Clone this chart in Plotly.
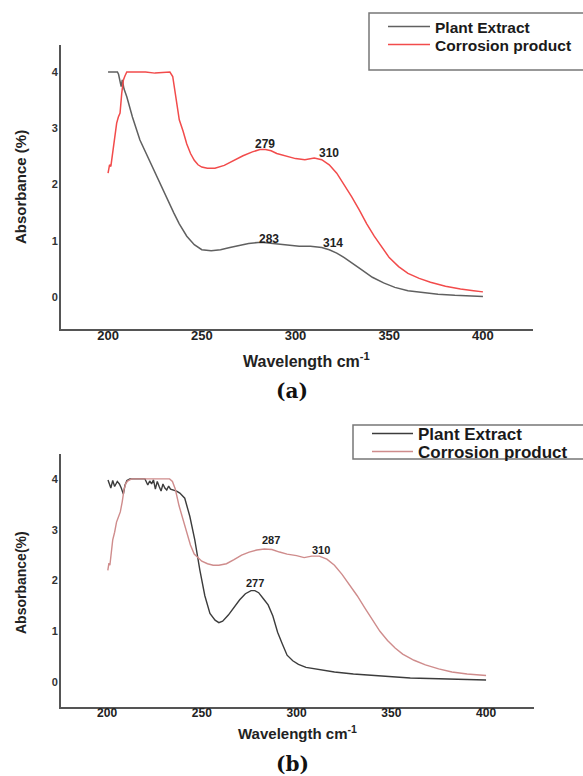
import plotly.graph_objects as go

W, H = 583, 776

# ---------------- data: panel (a) ----------------
a_plant_x = [200, 203, 205, 205.6, 206.3, 207, 207.6, 208.5, 210, 213, 217, 221, 225, 228.6, 232, 235,
             238, 242, 246, 250, 255, 260, 265, 270, 275, 280, 283, 288, 295, 302, 308, 314, 318, 322,
             326, 330, 335, 341, 347, 353, 360, 368, 376, 385, 392, 400]
a_plant_y = [4.0, 4.0, 4.0, 3.96, 3.82, 3.74, 3.86, 3.7, 3.56, 3.2, 2.79, 2.5, 2.2, 1.96, 1.7, 1.5,
             1.3, 1.08, 0.93, 0.84, 0.82, 0.84, 0.88, 0.92, 0.95, 0.97, 0.97, 0.95, 0.92, 0.9, 0.9, 0.88, 0.84, 0.78,
             0.7, 0.6, 0.49, 0.35, 0.25, 0.17, 0.11, 0.08, 0.05, 0.03, 0.02, 0.01]

a_corr_x = [200, 200.8, 201.5, 202, 202.8, 203.7, 204.6, 205.5, 206.4, 207.3, 208.2, 209, 210, 212, 215,
            220, 225, 230, 233, 234.5, 236, 238, 240, 242, 244, 246, 248, 250, 253, 257, 262, 267, 272,
            277, 281, 284, 287, 290, 295, 300, 305, 310, 314, 318, 322, 326, 330, 334, 338, 342, 346,
            350, 355, 360, 366, 372, 380, 388, 395, 400]
a_corr_y = [2.2, 2.35, 2.32, 2.45, 2.61, 2.85, 3.09, 3.2, 3.27, 3.62, 3.86, 3.93, 4.0, 4.0, 4.0,
            4.0, 3.98, 4.0, 4.0, 3.92, 3.6, 3.15, 2.95, 2.72, 2.55, 2.43, 2.35, 2.31, 2.29, 2.29, 2.34, 2.43, 2.51,
            2.58, 2.62, 2.62, 2.6, 2.55, 2.5, 2.46, 2.44, 2.47, 2.44, 2.35, 2.2, 2.0, 1.78, 1.55, 1.3, 1.08, 0.88,
            0.7, 0.54, 0.42, 0.33, 0.26, 0.19, 0.14, 0.11, 0.09]

# ---------------- data: panel (b) ----------------
b_plant_x = [200.5, 202, 203, 204, 205.4, 206.5, 207.5, 208.6, 209.5, 210.5, 212, 216, 220, 221.5, 222.5,
             223.5, 224.5, 225.5, 226.5, 227.5, 228.5, 229.5, 230.5, 231.5, 232.5, 233.5, 235, 236.7,
             238.4, 241, 243.7, 246.3, 249, 251.6, 254.3, 257, 259, 261, 264, 267, 270, 273, 276, 278,
             280, 282.5, 285, 287.5, 290, 292.5, 295, 298, 301, 305, 310, 320, 330, 340, 350, 360, 370,
             380, 390, 400]
b_plant_y = [3.98, 3.82, 3.97, 3.85, 3.95, 3.9, 3.82, 3.7, 3.88, 3.97, 4.0, 4.0, 4.0, 3.88, 3.96,
             3.9, 3.98, 3.8, 3.95, 3.85, 3.76, 3.9, 3.82, 3.78, 3.86, 3.8, 3.78, 3.76,
             3.72, 3.62, 3.26, 2.8, 2.2, 1.7, 1.35, 1.22, 1.17, 1.2, 1.32, 1.48, 1.62, 1.74, 1.8, 1.8,
             1.76, 1.64, 1.52, 1.3, 0.98, 0.75, 0.53, 0.42, 0.35, 0.29, 0.26, 0.2, 0.16, 0.13, 0.1, 0.08, 0.07,
             0.06, 0.05, 0.04]

b_corr_x = [200.4, 201, 201.5, 202, 203, 204, 205, 206, 207, 208, 209, 210, 211, 213, 216, 220, 225,
            230, 233, 234.5, 236, 238, 240, 242, 244, 246, 248, 250, 253, 256, 259, 263, 267, 271, 275,
            279, 283, 287, 291, 295, 300, 304, 308, 312, 316, 320, 324, 328, 332, 336, 340, 344, 348,
            352, 356, 362, 368, 375, 382, 390, 400]
b_corr_y = [2.2, 2.34, 2.3, 2.45, 2.8, 2.95, 3.15, 3.25, 3.35, 3.55, 3.8, 3.92, 3.96, 4.0, 4.0, 4.0, 4.0,
            4.0, 4.0, 3.95, 3.8, 3.47, 3.2, 2.95, 2.7, 2.52, 2.44, 2.38, 2.33, 2.3, 2.3, 2.33, 2.41, 2.5, 2.56,
            2.6, 2.62, 2.61, 2.56, 2.52, 2.49, 2.45, 2.48, 2.48, 2.42, 2.3, 2.12, 1.92, 1.7, 1.46, 1.22, 1.0, 0.82,
            0.67, 0.55, 0.43, 0.34, 0.26, 0.2, 0.16, 0.13]

x_ticks = [200, 250, 300, 350, 400]
y_ticks = [0, 1, 2, 3, 4]

a_peak_labels = ["279", "310", "283", "314"]
a_peak_x = [283.7, 318, 286, 320]
a_peak_y = [2.72, 2.56, 1.03, 0.96]
b_peak_labels = ["287", "310", "277"]
b_peak_x = [286.5, 313, 278.3]
b_peak_y = [2.8, 2.61, 1.96]

series_names = ["Plant Extract", "Corrosion product"]


def px(x):
    return x / W


def py(y):
    return 1 - y / H


fig = go.Figure()
fig.add_trace(go.Scatter(x=a_plant_x, y=a_plant_y, mode="lines", name=series_names[0],
                         line=dict(color="#606060", width=1.5), xaxis="x", yaxis="y", legend="legend"))
fig.add_trace(go.Scatter(x=a_corr_x, y=a_corr_y, mode="lines", name=series_names[1],
                         line=dict(color="#f24b4b", width=1.5), xaxis="x", yaxis="y", legend="legend2"))
fig.add_trace(go.Scatter(x=b_plant_x, y=b_plant_y, mode="lines", name=series_names[0],
                         line=dict(color="#3c3c3c", width=1.4), xaxis="x2", yaxis="y2", legend="legend3"))
fig.add_trace(go.Scatter(x=b_corr_x, y=b_corr_y, mode="lines", name=series_names[1],
                         line=dict(color="#cf8c8c", width=1.4), xaxis="x2", yaxis="y2", legend="legend4"))

FONT = "Liberation Sans, Arial, sans-serif"

axis_common = dict(showline=True, linecolor="#555555", linewidth=2, showgrid=False, zeroline=False,
                   ticks="", mirror=False)

annotations = []
for t, x, y in zip(a_peak_labels, a_peak_x, a_peak_y):
    annotations.append(dict(text=t, x=x, y=y, xref="x", yref="y", showarrow=False,
                            font=dict(family=FONT, size=12, color="#222", weight="bold")))
for t, x, y in zip(b_peak_labels, b_peak_x, b_peak_y):
    annotations.append(dict(text=t, x=x, y=y, xref="x2", yref="y2", showarrow=False,
                            font=dict(family=FONT, size=11, color="#222", weight="bold")))


def label(text, x, y, size, angle=0, family=FONT, color="#222"):
    return dict(text=text, x=px(x), y=py(y), xref="paper", yref="paper", showarrow=False,
                xanchor="center", yanchor="middle", textangle=angle,
                font=dict(family=family, size=size, color=color, weight="bold"))


annotations += [
    label("Absorbance (%)", 20, 187, 15, -90),
    label("Absorbance(%)", 21, 583, 14, -90),
    label("Wavelength cm<sup>-1</sup>", 306, 360, 16),
    label("Wavelength cm<sup>-1</sup>", 297, 732, 15),
    label("(a)", 292, 391, 20, family="DejaVu Serif, serif", color="#111"),
    label("(b)", 292, 764, 20, family="DejaVu Serif, serif", color="#111"),
]

shapes = [
    dict(type="rect", xref="paper", yref="paper", x0=px(369), x1=px(590), y0=py(70), y1=py(13),
         line=dict(color="#777777", width=1.5), fillcolor="rgba(0,0,0,0)"),
    dict(type="rect", xref="paper", yref="paper", x0=px(353), x1=px(590), y0=py(459), y1=py(425),
         line=dict(color="#777777", width=1.5), fillcolor="rgba(0,0,0,0)"),
]


def leg(x, y, size, iw):
    return dict(x=px(x), y=py(y), xanchor="left", yanchor="middle", bgcolor="rgba(0,0,0,0)",
                borderwidth=0, itemwidth=iw,
                font=dict(family=FONT, size=size, color="#1a1a1a", weight="bold"))


fig.update_layout(
    width=W, height=H,
    margin=dict(l=0, r=0, t=0, b=0, autoexpand=False),
    paper_bgcolor="white", plot_bgcolor="white",
    showlegend=True,
    xaxis=dict(domain=[px(61), px(533)], anchor="y", range=[174.9, 426.7], tickvals=x_ticks,
               ticklabelstandoff=-7,
               tickfont=dict(family=FONT, size=13, color="#222", weight="bold"), **axis_common),
    yaxis=dict(domain=[py(329), py(45)], anchor="x", range=[-0.57, 4.48], tickvals=y_ticks,
               ticklabelstandoff=-1,
               tickfont=dict(family=FONT, size=11, color="#333", weight="bold"), **axis_common),
    xaxis2=dict(domain=[px(61), px(534)], anchor="y2", range=[175.7, 425.3], tickvals=x_ticks,
                ticklabelstandoff=-6,
                tickfont=dict(family=FONT, size=12, color="#222", weight="bold"), **axis_common),
    yaxis2=dict(domain=[py(707), py(454)], anchor="x2", range=[-0.49, 4.49], tickvals=y_ticks,
                ticklabelstandoff=-1,
                tickfont=dict(family=FONT, size=11, color="#333", weight="bold"), **axis_common),
    legend=leg(383, 27, 15.5, 42),
    legend2=leg(383, 45, 15.5, 42),
    legend3=leg(367, 434, 17, 41),
    legend4=leg(367, 452, 17, 41),
    annotations=annotations,
    shapes=shapes,
)

fig.write_html("out.html")
